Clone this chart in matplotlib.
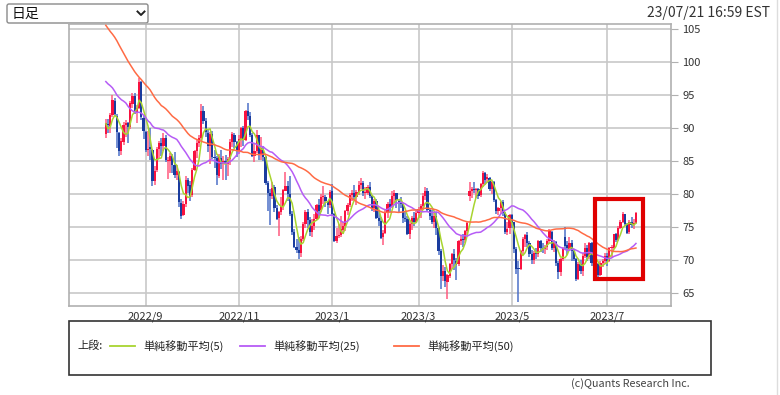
import matplotlib.pyplot as plt
import numpy as np
import pandas as pd
from matplotlib.patches import Rectangle, FancyBboxPatch

plt.rcParams['font.family'] = ['Noto Sans CJK JP', 'DejaVu Sans']

# closes before the first visible candle (only used to warm up the moving averages)
prior_close = [114.09, 115.07, 114.67,
               115.26, 116.87, 118.87, 118.50, 119.41, 122.11, 121.51, 120.67, 120.93, 118.93,
               115.31, 117.59, 109.56, 110.65, 106.19, 104.27, 107.62, 109.57, 111.76, 109.78, 105.76,
               108.43, 99.50, 98.53, 102.73, 104.79, 104.09, 95.84, 96.30, 95.78, 97.59,
               102.60, 104.22, 102.26, 96.35, 94.70, 96.70, 94.98, 97.26, 96.42, 98.62,
               93.89, 94.42, 90.66, 88.54, 89.01]

# daily candles, 2022/8/8 .. 2023/7/21
opens = [89.10, 90.60, 90.30, 92.00, 94.10, 91.80, 89.30, 86.50, 87.90, 90.40,
         90.70, 90.20, 93.60, 94.90, 92.50, 93.10, 97.00, 91.60, 89.40, 86.70,
         87.20, 86.70, 82.00, 83.60, 86.80, 87.80, 87.30, 88.50, 85.00, 85.00,
         85.70, 84.40, 82.90, 83.40, 78.70, 76.80, 78.50, 82.10, 81.30, 79.90,
         83.70, 86.50, 87.80, 88.50, 92.60, 91.10, 89.30, 87.30, 89.10, 85.60,
         85.40, 82.80, 85.50, 84.50, 85.00, 84.60, 85.30, 87.90, 89.00, 87.90,
         86.60, 88.40, 90.00, 88.20, 92.60, 91.80, 88.90, 85.80, 86.50, 88.90,
         85.90, 86.90, 85.60, 81.60, 80.10, 79.70, 81.00, 77.90, 76.30, 77.20,
         78.20, 80.50, 81.20, 80.00, 76.90, 74.20, 72.00, 71.50, 71.00, 73.20,
         75.40, 77.30, 76.10, 74.30, 75.20, 76.20, 78.30, 77.50, 79.50, 79.50,
         78.90, 78.40, 80.50, 76.90, 72.80, 73.70, 73.80, 74.60, 75.10, 77.40,
         78.40, 79.90, 80.20, 79.50, 80.30, 81.30, 81.60, 80.10, 80.20, 81.00,
         79.70, 77.90, 78.90, 76.40, 75.90, 73.40, 74.10, 77.10, 78.50, 78.10,
         79.70, 80.10, 79.00, 78.60, 78.50, 76.30, 76.20, 73.90, 75.40, 76.30,
         75.70, 77.10, 77.70, 78.20, 79.70, 80.50, 77.60, 76.70, 75.70, 76.70,
         74.80, 71.30, 67.60, 68.30, 66.70, 67.60, 69.30, 70.90, 69.90, 69.30,
         72.80, 73.20, 73.00, 74.40, 79.70, 80.40, 80.70, 80.60, 80.70, 79.80,
         81.50, 83.20, 82.20, 82.50, 80.80, 81.80, 79.10, 77.40, 77.80, 78.80,
         77.10, 74.30, 74.80, 76.80, 75.70, 71.70, 68.60, 68.60, 71.30, 73.20,
         73.70, 72.60, 70.90, 70.00, 71.10, 70.90, 72.80, 71.80, 71.70, 72.00,
         72.90, 74.30, 71.80, 72.70, 69.50, 68.10, 70.10, 73.50, 72.20, 71.70,
         72.50, 71.30, 70.20, 67.10, 69.40, 68.30, 70.60, 71.80, 70.50, 72.50,
         69.50, 69.20, 69.40, 67.70, 69.60, 69.90, 70.60, 69.80, 71.80, 71.80,
         73.90, 73.00, 74.80, 75.80, 76.90, 75.40, 74.20, 75.80, 75.30, 75.60]

highs = [91.40, 91.45, 92.25, 95.05, 94.50, 92.10, 89.45, 88.50, 91.00, 91.25,
         90.90, 94.10, 95.30, 95.40, 93.50, 97.65, 97.10, 92.00, 89.60, 89.50,
         90.00, 86.80, 84.20, 87.20, 88.00, 88.50, 89.20, 88.90, 85.60, 86.20,
         86.10, 86.30, 84.40, 83.50, 79.30, 79.00, 82.70, 82.50, 81.90, 84.00,
         86.70, 88.40, 89.00, 93.64, 93.30, 91.60, 89.90, 89.40, 89.50, 86.70,
         85.80, 86.00, 86.70, 85.80, 85.90, 85.60, 88.30, 89.40, 89.20, 88.00,
         89.00, 90.20, 90.30, 92.80, 93.74, 92.40, 89.20, 87.80, 89.70, 89.00,
         88.70, 87.30, 85.70, 81.90, 80.70, 81.80, 81.30, 78.30, 77.40, 79.60,
         80.70, 83.30, 81.90, 82.70, 77.40, 74.70, 73.10, 73.40, 73.60, 75.70,
         77.60, 77.70, 76.50, 76.20, 76.90, 78.50, 79.30, 80.00, 81.20, 79.80,
         79.00, 80.60, 81.50, 77.10, 74.80, 75.50, 76.70, 75.80, 77.60, 78.70,
         80.10, 80.60, 81.30, 80.60, 82.00, 82.40, 82.00, 81.00, 81.40, 81.80,
         79.90, 79.20, 79.30, 77.40, 76.50, 74.60, 77.60, 78.80, 79.20, 80.40,
         80.60, 80.20, 79.10, 79.50, 78.70, 77.20, 76.70, 75.90, 76.60, 77.20,
         77.40, 78.00, 78.50, 80.10, 81.00, 80.90, 77.90, 77.60, 77.20, 77.30,
         75.00, 71.60, 69.20, 68.90, 67.90, 69.60, 71.00, 71.70, 70.30, 73.00,
         73.80, 73.90, 74.60, 75.70, 81.80, 81.10, 81.80, 80.90, 80.90, 81.70,
         83.53, 83.40, 83.10, 82.60, 81.90, 81.90, 79.20, 78.00, 78.90, 79.10,
         77.30, 75.80, 76.90, 76.90, 75.80, 71.90, 69.90, 71.50, 73.40, 73.90,
         74.20, 72.90, 71.50, 71.40, 71.80, 73.00, 73.00, 72.50, 72.30, 73.20,
         74.70, 74.40, 73.00, 72.90, 69.90, 70.30, 72.00, 75.06, 72.90, 73.40,
         73.00, 71.60, 70.30, 69.70, 70.00, 71.00, 72.50, 72.20, 72.70, 72.70,
         69.80, 70.40, 69.50, 69.80, 70.10, 71.00, 71.00, 72.00, 72.20, 74.00,
         74.10, 75.10, 76.00, 77.29, 77.00, 75.60, 76.00, 76.50, 76.20, 77.30]

lows = [88.50, 89.25, 89.20, 91.70, 91.90, 87.00, 85.75, 85.90, 87.40, 88.60,
        87.70, 89.90, 93.00, 92.20, 90.80, 92.90, 91.20, 88.40, 86.40, 85.70,
        85.20, 81.20, 81.30, 83.40, 85.40, 85.70, 86.60, 84.90, 82.20, 83.20,
        83.20, 82.40, 82.10, 78.10, 76.25, 76.60, 78.00, 80.10, 78.90, 79.60,
        83.50, 85.40, 87.10, 88.20, 90.60, 88.70, 86.40, 84.60, 85.30, 84.00,
        81.30, 82.40, 83.80, 82.10, 82.10, 82.70, 84.40, 87.20, 87.00, 85.60,
        86.00, 87.20, 87.30, 88.10, 91.30, 88.60, 85.60, 84.90, 86.20, 85.10,
        85.20, 85.00, 81.30, 77.40, 75.30, 79.20, 77.20, 76.00, 73.60, 76.80,
        77.50, 80.40, 78.90, 76.70, 73.80, 71.80, 71.10, 70.08, 70.50, 72.80,
        74.90, 74.80, 73.70, 73.50, 74.50, 76.00, 76.40, 77.20, 78.50, 78.10,
        77.00, 77.90, 76.60, 72.70, 72.50, 73.30, 73.50, 73.90, 74.40, 76.80,
        78.00, 78.90, 79.20, 78.30, 79.80, 80.80, 79.70, 79.20, 79.80, 79.40,
        77.40, 77.20, 76.20, 75.10, 73.10, 72.30, 73.90, 76.40, 77.20, 77.80,
        78.70, 77.80, 77.30, 77.90, 75.60, 75.80, 73.80, 73.10, 74.50, 75.20,
        75.60, 76.40, 76.30, 77.70, 79.10, 77.20, 76.10, 75.40, 74.80, 73.80,
        70.70, 65.65, 66.80, 65.90, 64.12, 67.20, 68.60, 68.50, 66.90, 69.10,
        72.20, 72.00, 72.60, 73.80, 79.00, 79.40, 80.20, 79.40, 79.20, 79.60,
        81.00, 81.30, 81.60, 80.40, 80.00, 78.80, 76.90, 76.80, 76.90, 76.60,
        73.90, 73.80, 74.00, 74.90, 71.00, 67.90, 63.64, 68.40, 70.80, 71.90,
        71.90, 70.50, 69.40, 69.40, 70.10, 70.50, 71.20, 71.10, 70.90, 71.50,
        72.60, 71.50, 71.20, 69.10, 67.05, 67.60, 69.80, 71.70, 70.80, 71.50,
        69.90, 69.90, 66.80, 66.90, 67.80, 67.60, 70.30, 69.80, 70.10, 69.00,
        68.30, 68.60, 67.30, 67.60, 68.90, 69.50, 69.10, 69.70, 70.30, 71.60,
        72.70, 72.80, 74.70, 75.60, 75.10, 73.90, 73.90, 74.80, 74.70, 75.40]

closes = [90.76, 90.50, 91.93, 94.34, 92.09, 89.41, 86.53, 88.11, 90.50, 90.77,
          90.23, 93.74, 94.89, 92.52, 93.06, 97.01, 91.64, 89.55, 86.61, 86.87,
          86.88, 81.94, 83.54, 86.79, 87.78, 87.31, 88.48, 85.10, 85.11, 85.73,
          84.45, 82.94, 83.49, 78.74, 76.71, 78.50, 82.15, 81.23, 79.49, 83.63,
          86.52, 87.76, 88.45, 92.64, 91.13, 89.35, 87.27, 89.11, 85.61, 85.46,
          82.82, 85.55, 84.51, 85.05, 84.58, 85.32, 87.91, 89.08, 87.90, 86.53,
          88.37, 90.00, 88.17, 92.61, 91.79, 88.91, 85.83, 86.47, 88.96, 85.87,
          86.92, 85.59, 81.64, 80.08, 79.73, 80.95, 77.94, 76.28, 77.24, 78.20,
          80.55, 81.22, 79.98, 76.93, 74.25, 72.01, 71.46, 71.02, 73.17, 75.39,
          77.28, 76.11, 74.29, 75.19, 76.23, 78.29, 77.49, 79.56, 79.53, 78.96,
          78.40, 80.26, 76.93, 72.84, 73.67, 73.77, 74.63, 75.12, 77.41, 78.39,
          79.86, 80.18, 79.48, 80.33, 81.31, 81.62, 80.13, 80.15, 81.01, 79.68,
          77.90, 78.87, 76.41, 75.88, 73.39, 74.11, 77.14, 78.47, 78.06, 79.72,
          80.14, 79.06, 78.59, 78.49, 76.34, 76.16, 73.95, 75.39, 76.32, 75.68,
          77.05, 77.69, 78.16, 79.68, 80.46, 77.58, 76.66, 75.72, 76.68, 74.80,
          71.33, 67.61, 68.35, 66.74, 67.64, 69.33, 70.90, 69.96, 69.26, 72.81,
          73.20, 72.97, 74.37, 75.67, 80.42, 80.71, 80.61, 80.70, 79.74, 81.53,
          83.26, 82.16, 82.52, 80.83, 81.86, 79.16, 77.37, 77.87, 78.76, 77.07,
          74.30, 74.76, 76.78, 75.66, 71.66, 68.60, 68.56, 71.34, 73.16, 73.71,
          72.56, 70.87, 70.04, 71.11, 70.86, 72.83, 71.86, 71.69, 71.99, 72.91,
          74.34, 71.83, 72.67, 69.46, 68.09, 70.10, 71.74, 72.15, 71.74, 72.53,
          71.29, 70.17, 67.12, 69.42, 68.27, 70.62, 71.78, 70.50, 72.53, 69.51,
          69.16, 69.37, 67.70, 69.56, 69.86, 70.64, 69.79, 71.79, 71.80, 73.86,
          72.99, 74.83, 75.75, 76.89, 75.42, 74.15, 75.75, 75.35, 75.63, 77.07]

# first trading day of each labelled month (index into the candles)
tick_pos = [18, 60, 102, 141, 183, 226]
tick_labels = ['2022/9', '2022/11', '2023/1', '2023/3', '2023/5', '2023/7']

ma_periods = [5, 25, 50]
ma_labels = ['単純移動平均(5)', '単純移動平均(25)', '単純移動平均(50)']
ma_colors = ['#a8d430', '#b65cf6', '#ff6b45']

W, H = 780, 395
fig = plt.figure(figsize=(W / 100, H / 100), dpi=100)

# page-level layer in pixel coordinates (origin top-left)
bg = fig.add_axes([0, 0, 1, 1])
bg.set_xlim(0, W)
bg.set_ylim(H, 0)
bg.axis('off')

ax = fig.add_axes([69 / W, 1 - 306 / H, 602 / W, 282 / H])

n = len(closes)
x = np.arange(n)
o = np.array(opens)
c = np.array(closes)
h = np.array(highs)
l = np.array(lows)
up = c >= o
body_col = np.where(up, '#f8123f', '#1a3c9e')
wick_col = np.where(up, '#ff5a7e', '#4d70c8')

ax.vlines(x, l, h, colors=wick_col, lw=1.1, zorder=2)
ax.bar(x, np.maximum(np.abs(c - o), 0.15), bottom=np.minimum(o, c), width=1.0,
       color=body_col, linewidth=0, zorder=3)

all_close = pd.Series(prior_close + closes)
for p, col in zip(ma_periods, ma_colors):
    ma = all_close.rolling(p).mean().to_numpy()[-n:]
    ax.plot(x, ma, color=col, lw=1.1, zorder=4)

# highlight of the latest rally
ax.add_patch(Rectangle((220.7, 67.1), 21.6, 12.1, fill=False, ec='#e00000',
                       lw=3.0, zorder=5, clip_on=False))

ax.set_xlim(-16.6, 254.8)
ax.set_ylim(63, 105.8)
ax.yaxis.tick_right()
ax.set_yticks(np.arange(65, 106, 5))
ax.set_xticks(tick_pos, tick_labels)
ax.tick_params(axis='y', length=5, color='#b0b0b0', labelsize=8, labelcolor='#333333', pad=3)
ax.tick_params(axis='x', length=0, labelsize=8, labelcolor='#333333', pad=4)
ax.grid(color='#c8c8c8', lw=1.2)
ax.set_axisbelow(True)
for s in ax.spines.values():
    s.set_color('#b0b0b0')
    s.set_linewidth(1.2)

# dropdown and timestamp
bg.add_patch(FancyBboxPatch((7, 4), 141, 19, boxstyle='round,pad=0,rounding_size=2',
                            fc='white', ec='#8a8a8a', lw=1))
bg.text(12, 13.5, '日足', fontsize=10, va='center', color='#111111')
bg.plot([137.5, 141, 144.5], [11.5, 15, 11.5], color='#222222', lw=1.4)
bg.text(770, 13, '23/07/21 16:59 EST', ha='right', va='center', fontsize=10, color='#333333')

# legend panel
bg.add_patch(Rectangle((69, 321), 642, 54, fill=False, ec='#333333', lw=1.2))
bg.text(77, 346, '上段:', fontsize=8, va='center', color='#222222')
for lx, lab, col in zip([110, 240, 394], ma_labels, ma_colors):
    bg.plot([lx, lx + 25], [346, 346], color=col, lw=1.3)
    bg.text(lx + 33, 346, lab, fontsize=8, va='center', color='#222222')

bg.text(690, 384, '(c)Quants Research Inc.', ha='right', va='center', fontsize=7.8, color='#444444')
bg.plot([777, 777], [0, H], color='#dddddd', lw=1)

plt.savefig('out.png', dpi=100)
